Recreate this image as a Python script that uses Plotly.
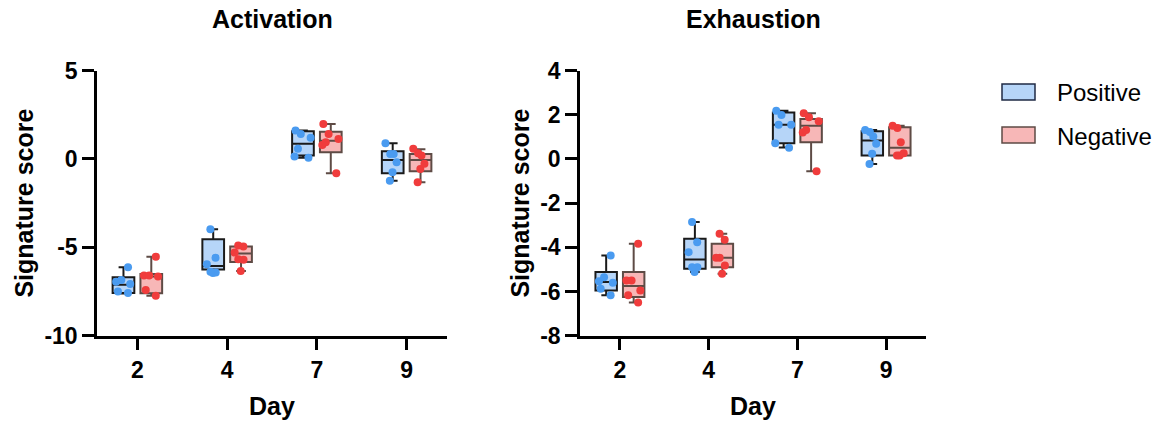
import plotly.graph_objects as go
from plotly.subplots import make_subplots

days = ["2", "4", "7", "9"]

# ---- Activation: individual points (6 per day) ----
act_pos_pts = [
    [-6.13, -6.85, -6.95, -7.07, -7.50, -7.58],
    [-3.98, -5.59, -5.96, -6.38, -6.43, -6.45],
    [1.60, 1.41, 1.19, 0.57, 0.06, 0.13],
    [0.88, 0.28, 0.28, -0.19, -0.76, -1.23],
]
act_neg_pts = [
    [-5.53, -6.60, -6.60, -6.65, -7.41, -7.74],
    [-4.90, -4.96, -5.30, -5.68, -5.70, -6.34],
    [1.98, 1.41, 1.13, 0.94, 0.79, -0.81],
    [0.57, 0.32, 0.19, -0.28, -0.57, -1.32],
]
# ---- Activation: box statistics ----
act_pos_lo = [-7.62, -6.45, 0.06, -1.23]
act_pos_q1 = [-7.58, -6.25, 0.19, -0.81]
act_pos_med = [-7.12, -6.06, 0.85, -0.06]
act_pos_q3 = [-6.70, -4.55, 1.56, 0.43]
act_pos_hi = [-6.13, -3.98, 1.60, 0.88]

act_neg_lo = [-7.74, -6.34, -0.81, -1.32]
act_neg_q1 = [-7.60, -5.83, 0.37, -0.70]
act_neg_med = [-6.65, -5.35, 1.03, -0.06]
act_neg_q3 = [-6.51, -4.95, 1.54, 0.28]
act_neg_hi = [-5.53, -4.88, 1.98, 0.55]

# ---- Exhaustion: individual points ----
exh_pos_pts = [
    [-4.37, -5.35, -5.54, -5.60, -5.87, -6.17],
    [-2.86, -3.77, -4.22, -4.90, -4.90, -5.12],
    [2.18, 1.99, 1.54, 1.54, 0.71, 0.50],
    [1.31, 1.22, 1.01, 0.68, 0.23, -0.23],
]
exh_neg_pts = [
    [-3.84, -5.50, -5.50, -5.95, -6.17, -6.50],
    [-3.39, -3.66, -4.47, -4.47, -4.82, -5.20],
    [2.06, 1.88, 1.70, 1.31, 1.20, -0.56],
    [1.50, 1.40, 0.75, 0.25, 0.15, 0.15],
]
exh_pos_lo = [-6.17, -5.12, 0.52, -0.23]
exh_pos_q1 = [-5.95, -4.97, 0.71, 0.15]
exh_pos_med = [-5.57, -4.55, 1.54, 0.83]
exh_pos_q3 = [-5.12, -3.61, 2.10, 1.25]
exh_pos_hi = [-4.37, -2.86, 2.18, 1.31]

exh_neg_lo = [-6.50, -5.20, -0.56, 0.15]
exh_neg_q1 = [-6.25, -4.90, 0.75, 0.15]
exh_neg_med = [-5.75, -4.47, 1.50, 0.50]
exh_neg_q3 = [-5.12, -3.84, 1.81, 1.43]
exh_neg_hi = [-3.84, -3.39, 2.06, 1.50]

act_ticks = [5, 0, -5, -10]
act_ticktext = ["5", "0", "-5", "-10"]
exh_ticks = [4, 2, 0, -2, -4, -6, -8]
exh_ticktext = ["4", "2", "0", "-2", "-4", "-6", "-8"]

groups = ["Positive", "Negative"]

# ---- styles ----
FONT = "Liberation Sans, Arial, sans-serif"
POS_FILL = "#b6d5f8"
POS_LINE = "#1a1a1a"
POS_PT = "#4a9bf0"
NEG_FILL = "#f7b7b7"
NEG_LINE = "#5e4b45"
NEG_PT = "#f03c3c"

fig = make_subplots(rows=1, cols=2)


def add_group(col, name, lo, q1, med, q3, hi, fill, line, og):
    fig.add_trace(go.Box(
        x=days, lowerfence=lo, q1=q1, median=med, q3=q3, upperfence=hi,
        name=name, offsetgroup=og, fillcolor=fill,
        line=dict(color=line, width=2), whiskerwidth=0.45,
        boxpoints=False, showlegend=False, hoverinfo="skip",
    ), row=1, col=col)


def add_points(col, name, pts, ptc, og):
    xs = [d for d, p in zip(days, pts) for _ in p]
    ys = [v for p in pts for v in p]
    fig.add_trace(go.Box(
        x=xs, y=ys, name=name, offsetgroup=og,
        fillcolor="rgba(0,0,0,0)", line=dict(color="rgba(0,0,0,0)", width=0),
        boxpoints="all", jitter=0.8, pointpos=0,
        marker=dict(color=ptc, size=8, line=dict(width=0)),
        showlegend=False, hoverinfo="y",
    ), row=1, col=col)


add_group(1, groups[0], act_pos_lo, act_pos_q1, act_pos_med, act_pos_q3, act_pos_hi, POS_FILL, POS_LINE, "pos")
add_group(1, groups[1], act_neg_lo, act_neg_q1, act_neg_med, act_neg_q3, act_neg_hi, NEG_FILL, NEG_LINE, "neg")
add_group(2, groups[0], exh_pos_lo, exh_pos_q1, exh_pos_med, exh_pos_q3, exh_pos_hi, POS_FILL, POS_LINE, "pos")
add_group(2, groups[1], exh_neg_lo, exh_neg_q1, exh_neg_med, exh_neg_q3, exh_neg_hi, NEG_FILL, NEG_LINE, "neg")
add_points(1, groups[0], act_pos_pts, POS_PT, "pos")
add_points(1, groups[1], act_neg_pts, NEG_PT, "neg")
add_points(2, groups[0], exh_pos_pts, POS_PT, "pos")
add_points(2, groups[1], exh_neg_pts, NEG_PT, "neg")

W, H = 1164, 427
ytop, ybot = 70.5, 335.7
ydom = [1 - ybot / H, 1 - ytop / H]

axis_common = dict(
    showline=True, linewidth=2.5, linecolor="black", mirror=False,
    ticks="outside", ticklen=12, tickwidth=2.5, tickcolor="black",
    showgrid=False, zeroline=False, automargin=False,
    tickfont=dict(family=FONT, size=23, color="black", weight="bold"),
)
title_font = dict(family=FONT, size=25, color="black", weight="bold")

fig.update_xaxes(type="category", categoryorder="array", categoryarray=days,
                 range=[-0.45, 3.45], title=dict(text="Day", font=title_font, standoff=16),
                 **axis_common)
fig.update_yaxes(title=dict(text="Signature score", font=title_font, standoff=4), **axis_common)

fig.update_layout(
    xaxis=dict(domain=[97 / W, 447 / W]),
    xaxis2=dict(domain=[580 / W, 926 / W]),
    yaxis=dict(domain=ydom, range=[-10, 5], tickvals=act_ticks, ticktext=act_ticktext),
    yaxis2=dict(domain=ydom, range=[-8, 4], tickvals=exh_ticks, ticktext=exh_ticktext),
    boxmode="group", boxgap=0.38, boxgroupgap=0.22,
    width=W, height=H, margin=dict(l=0, r=0, t=0, b=0),
    plot_bgcolor="white", paper_bgcolor="white",
    font=dict(family=FONT, color="black"),
    showlegend=False,
)

# panel titles
fig.add_annotation(text="Activation", xref="x domain", yref="paper", x=0.5, y=1 - 19 / H,
                   xanchor="center", yanchor="middle", showarrow=False, font=title_font)
fig.add_annotation(text="Exhaustion", xref="x2 domain", yref="paper", x=0.5, y=1 - 19 / H,
                   xanchor="center", yanchor="middle", showarrow=False, font=title_font)

# manual legend
leg = [(groups[0], POS_FILL, "#1f2a44", 84, 100, 92), (groups[1], NEG_FILL, NEG_LINE, 127, 143, 136)]
for name, fill, border, t, b, c in leg:
    fig.add_shape(type="rect", xref="paper", yref="paper",
                  x0=1002 / W, x1=1035 / W, y0=1 - b / H, y1=1 - t / H,
                  fillcolor=fill, line=dict(color=border, width=1.5))
    fig.add_annotation(text=name, xref="paper", yref="paper", x=1055 / W, y=1 - c / H,
                       xanchor="left", yanchor="middle", showarrow=False,
                       font=dict(family=FONT, size=24, color="black"))

fig.write_html("out.html", config={"displayModeBar": False},
               post_script="document.body.style.margin='0';")
